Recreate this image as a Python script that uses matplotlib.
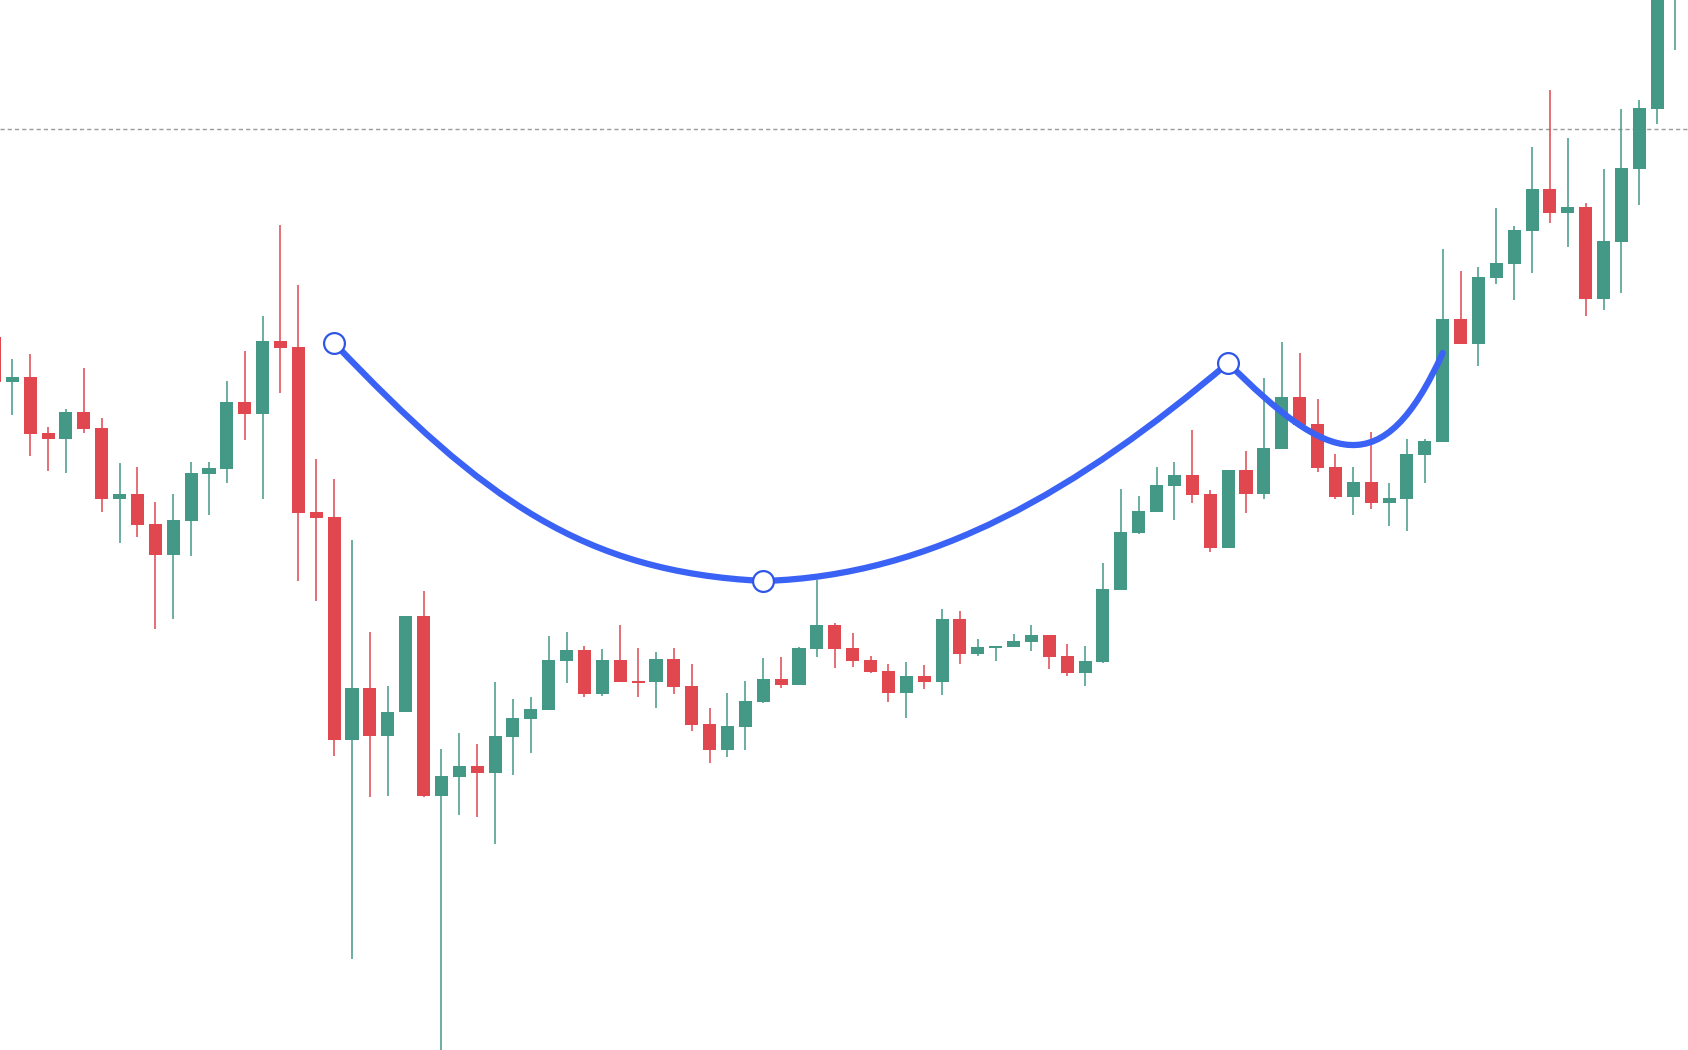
import numpy as np
import matplotlib
matplotlib.use("Agg")
import matplotlib.pyplot as plt
from matplotlib.path import Path
from matplotlib.patches import PathPatch

# ── Data (price units) ─────────────────────────────────────────────────────────

idx = list(range(-1, 94))

opens = [713, 668, 673, 617, 611, 638, 622, 551, 556, 526, 495, 529, 576, 581, 648, 636,
         709, 703, 538, 533, 310, 362, 314, 338, 434, 254, 273, 284, 277, 313, 331, 340,
         389, 400, 356, 390, 369, 368, 391, 364, 326, 300, 323, 348, 371, 365, 401, 425,
         402, 390, 379, 357, 374, 368, 431, 396, 402, 403, 408, 415, 394, 377, 388, 460,
         517, 538, 564, 575, 556, 502, 580, 556, 601, 653, 626, 583, 553, 568, 547, 551,
         595, 608, 731, 706, 772, 786, 819, 861, 837, 843, 751, 808, 881, 941, 1060]
highs = [713, 691, 696, 623, 641, 682, 632, 587, 583, 548, 556, 588, 588, 669, 699, 734,
         825, 765, 591, 571, 510, 418, 364, 434, 459, 301, 317, 306, 368, 351, 353, 414,
         418, 404, 401, 425, 402, 398, 402, 386, 342, 357, 369, 392, 393, 403, 470, 427,
         417, 394, 386, 388, 385, 441, 439, 411, 404, 416, 425, 415, 406, 404, 487, 561,
         554, 583, 588, 620, 560, 580, 599, 672, 708, 697, 651, 596, 583, 618, 567, 611,
         611, 801, 779, 783, 842, 824, 903, 960, 912, 847, 881, 941, 950, 1110, 1200]
lows = [668, 635, 594, 579, 577, 617, 538, 507, 513, 421, 431, 494, 535, 567, 610, 551,
        657, 469, 449, 294, 91, 253, 254, 338, 253, -10, 235, 233, 206, 275, 297, 340,
        367, 353, 354, 368, 353, 342, 356, 319, 287, 293, 300, 347, 362, 365, 393, 382,
        383, 377, 348, 332, 361, 355, 386, 394, 389, 403, 399, 381, 374, 364, 387, 460,
        516, 538, 530, 547, 498, 502, 537, 551, 601, 625, 578, 551, 535, 541, 524, 519,
        567, 608, 706, 684, 766, 750, 777, 827, 803, 734, 740, 757, 845, 926, 1000]
closes = [668, 673, 616, 611, 638, 621, 551, 556, 525, 495, 530, 577, 582, 648, 636, 709,
          702, 537, 532, 310, 362, 314, 338, 434, 254, 274, 284, 277, 314, 332, 341, 390,
          400, 356, 390, 368, 368, 391, 363, 325, 300, 324, 349, 371, 365, 402, 425, 401,
          389, 378, 357, 374, 368, 431, 396, 403, 404, 409, 415, 393, 377, 389, 461, 518,
          539, 565, 575, 555, 502, 580, 556, 602, 653, 625, 582, 553, 568, 547, 552, 596,
          609, 731, 706, 773, 787, 820, 861, 837, 843, 751, 809, 882, 942, 1090, 1180]

ref_level = 921  # dashed horizontal line

# curve drawing: anchors (bar index, price) and bezier handles between them
anchor_x = [18, 42, 68, 80]
anchor_y = [707, 469, 687, 697]
handle1_x = [26.38, 51.49, 73.58]
handle1_y = [550, 474, 587]
handle2_x = [31.92, 59.60, 76.66]
handle2_y = [478, 560, 565]

UP = "#439985"
DOWN = "#e0474f"
LINE = "#3a62f5"

# ── Plot ───────────────────────────────────────────────────────────────────────

fig = plt.figure(figsize=(16.88, 10.5), dpi=100)
ax = fig.add_axes([0, 0, 1, 1])

o = np.array(opens, dtype=float)
c = np.array(closes, dtype=float)
x = np.array(idx, dtype=float)
cols = [UP if cc >= oo else DOWN for oo, cc in zip(o, c)]

ax.vlines(x, lows, highs, colors=cols, linewidth=1.1, zorder=2)
body = np.where(np.abs(c - o) < 1.5, 1.5 * np.sign(c - o + 1e-9), c - o)
ax.bar(x, body, bottom=o, width=0.73, color=cols, linewidth=0, zorder=3)

ax.axhline(ref_level, color="#9a9a9a", linewidth=1.0, dashes=(3, 2.2), zorder=1)

verts = [(anchor_x[0], anchor_y[0])]
codes = [Path.MOVETO]
for k in range(3):
    verts += [(handle1_x[k], handle1_y[k]), (handle2_x[k], handle2_y[k]),
              (anchor_x[k + 1], anchor_y[k + 1])]
    codes += [Path.CURVE4] * 3
ax.add_patch(PathPatch(Path(verts, codes), facecolor="none", edgecolor=LINE,
                       linewidth=4.5, capstyle="round", zorder=5))
ax.plot(anchor_x[:3], anchor_y[:3], "o", ms=15, mfc="white", mec="#2f56e6",
        mew=1.6, zorder=6)

ax.set_xlim(-0.688, 93.72)
ax.set_ylim(0, 1050)
ax.axis("off")

fig.savefig("out.png", dpi=100, facecolor="white")
